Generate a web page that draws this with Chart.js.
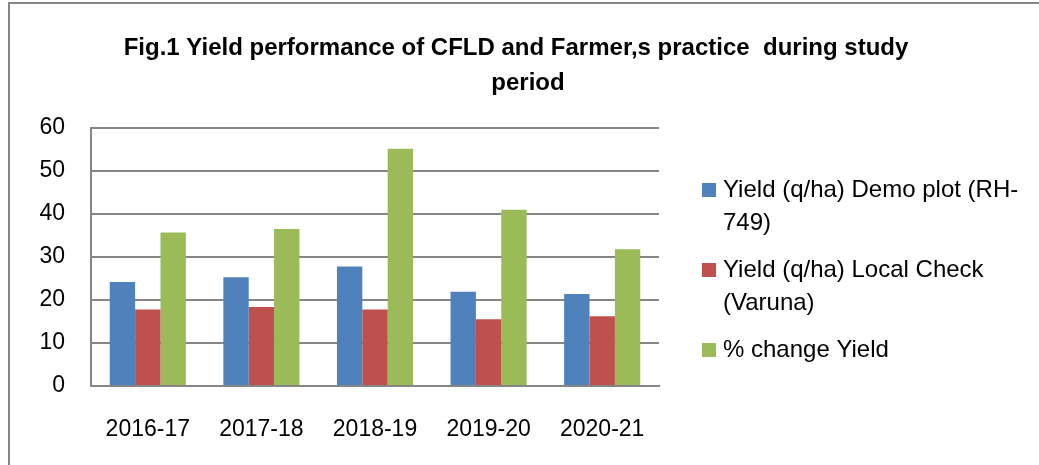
<!DOCTYPE html>
<html>
<head>
<meta charset="utf-8">
<script src="https://cdn.jsdelivr.net/npm/chart.js@4.4.1/dist/chart.umd.min.js"></script>
<style>
  html, body { margin: 0; padding: 0; background: #fff; }
  #wrap { width: 1039px; height: 465px; position: relative; }
</style>
</head>
<body>
<div id="wrap"><canvas id="c"></canvas></div>
<script>
  // Data
  const years = ["2016-17", "2017-18", "2018-19", "2019-20", "2020-21"];
  const demoYield = [24.2, 25.3, 27.8, 21.9, 21.4];
  const localYield = [17.8, 18.4, 17.8, 15.5, 16.2];
  const pctChange = [35.7, 36.5, 55.2, 41.0, 31.8];
  const seriesNames = [
    ["Yield (q/ha) Demo plot (RH-", "749)"],
    ["Yield (q/ha) Local Check", "(Varuna)"],
    ["% change Yield"],
  ];
  const titleLines = [
    "Fig.1 Yield performance of CFLD and Farmer,s practice  during study",
    "period",
  ];

  const FONT = "'Liberation Sans', Arial, sans-serif";
  const GRID = "#868686";
  const colors = ["#4F81BD", "#C0504D", "#9BBB59"];

  // white page + frame (only top and left edges show in the crop) + title across full width
  const framePlugin = {
    id: "frame",
    beforeDraw(chart) {
      const ctx = chart.ctx;
      ctx.save();
      ctx.fillStyle = "#fff";
      ctx.fillRect(0, 0, chart.width, chart.height);
      ctx.strokeStyle = GRID;
      ctx.lineWidth = 2;
      ctx.beginPath();
      ctx.moveTo(9, chart.height + 5);
      ctx.lineTo(9, 3);
      ctx.lineTo(chart.width + 5, 3);
      ctx.stroke();

      ctx.fillStyle = "#000";
      ctx.font = "bold 24px " + FONT;
      ctx.textAlign = "center";
      ctx.textBaseline = "middle";
      ctx.fillText(titleLines[0], 516, 48);
      ctx.fillText(titleLines[1], 528, 83);
      ctx.restore();
    },
  };

  // legend with wrapped labels, drawn to the right of the plot
  const sideLegend = {
    id: "sideLegend",
    afterDraw(chart) {
      const ctx = chart.ctx;
      const x = chart.chartArea.right + 43;
      let y = 190;
      const lh = 33;
      ctx.save();
      ctx.font = "24px " + FONT;
      ctx.textBaseline = "middle";
      chart.data.datasets.forEach((ds, i) => {
        const lines = seriesNames[i];
        ctx.fillStyle = ds.backgroundColor;
        ctx.fillRect(x, y - 7, 14, 14);
        ctx.fillStyle = "#000";
        lines.forEach((t, k) => ctx.fillText(t, x + 21, y + k * lh));
        y += lines.length * lh + 14;
      });
      ctx.restore();
    },
  };

  new Chart(document.getElementById("c"), {
    type: "bar",
    data: {
      labels: years,
      datasets: [
        { label: seriesNames[0].join(""), data: demoYield, backgroundColor: colors[0] },
        { label: seriesNames[1].join(" "), data: localYield, backgroundColor: colors[1] },
        { label: seriesNames[2].join(" "), data: pctChange, backgroundColor: colors[2] },
      ],
    },
    options: {
      responsive: true,
      maintainAspectRatio: false,
      animation: false,
      layout: { padding: { left: 40, right: 380, top: 128, bottom: 23 } },
      datasets: {
        bar: { categoryPercentage: 0.67, barPercentage: 1.0 },
      },
      plugins: {
        legend: { display: false },
        tooltip: { enabled: false },
        title: { display: false },
      },
      scales: {
        x: {
          grid: { display: false, drawTicks: false },
          border: { display: true, color: GRID, width: 2 },
          ticks: { color: "#000", font: { family: FONT, size: 23 }, padding: 30 },
          afterFit(scale) { scale.height = 56; },
        },
        y: {
          min: 0,
          max: 60,
          grid: { color: GRID, lineWidth: 2, drawTicks: false },
          border: { display: true, color: GRID, width: 2 },
          ticks: { stepSize: 10, color: "#000", font: { family: FONT, size: 23 }, padding: 26 },
          afterFit(scale) { scale.width = 51; },
        },
      },
    },
    plugins: [framePlugin, sideLegend],
  });
</script>
</body>
</html>
